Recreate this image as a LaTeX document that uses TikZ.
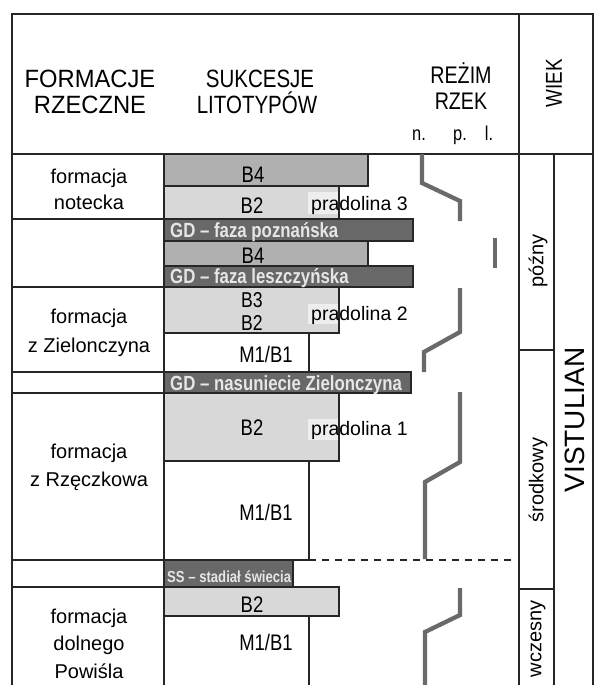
\documentclass[tikz,border=0pt]{standalone}
\usepackage{fontspec}
\setmainfont{Liberation Sans}
\newfontfamily\fW[FakeStretch=0.95]{Liberation Sans}
\newfontfamily\fN[FakeStretch=0.82]{Liberation Sans}
\definecolor{cBfour}{HTML}{B0B0B0}
\definecolor{cBtwo}{HTML}{D8D8D8}
\definecolor{cGD}{HTML}{686868}
\definecolor{cGDtext}{HTML}{E6E6E6}
\definecolor{cLine}{HTML}{262626}
\definecolor{cReg}{HTML}{6A6A6A}
\definecolor{cPatch}{HTML}{EEEEEE}
\begin{document}
\begin{tikzpicture}[x=1pt,y=-1pt,
  frameline/.style={draw=cLine, line width=1.2pt},
  lbox/.style={draw=cLine, line width=1.1pt},
  regime/.style={draw=cReg, line width=4.3pt, line join=miter},
  hdrwide/.style={anchor=base, inner sep=0pt, font=\fW\fontsize{25}{30}\selectfont},
  hdrnarrow/.style={anchor=base, inner sep=0pt, font=\fN\fontsize{25}{30}\selectfont},
  hdrsmall/.style={anchor=base, inner sep=0pt, font=\fN\fontsize{24}{28}\selectfont},
  npl/.style={anchor=base, inner sep=0pt, font=\fN\fontsize{20}{24}\selectfont},
  formtext/.style={anchor=base, inner sep=0pt, font=\fontsize{20}{24}\selectfont},
  litho/.style={anchor=base, inner sep=0pt, font=\fN\fontsize{22.5}{26}\selectfont},
  gdtext/.style={anchor=base west, inner sep=0pt, text=cGDtext, font=\fN\bfseries\fontsize{20.5}{24}\selectfont},
  sstext/.style={anchor=base west, inner sep=0pt, text=cGDtext, font=\fN\bfseries\fontsize{16}{20}\selectfont},
  pradtext/.style={anchor=base west, inner sep=0pt, font=\fontsize{19.5}{23}\selectfont},
  agetext/.style={rotate=90, anchor=center, inner sep=0pt, font=\fontsize{20}{24}\selectfont},
]
\useasboundingbox (0,0) rectangle (609,685);
\fill[white] (0,0) rectangle (609,685);
\begin{scope}
\clip (0,0) rectangle (609,685);

% lithotype boxes
\filldraw[lbox, fill=cBfour] (164,154) rectangle (368,186);
\filldraw[lbox, fill=cBtwo] (164,186) rectangle (339,219);
\filldraw[lbox, fill=cGD] (164,219) rectangle (413,241);
\filldraw[lbox, fill=cBfour] (164,241) rectangle (368,266);
\filldraw[lbox, fill=cGD] (164,266) rectangle (413,287);
\filldraw[lbox, fill=cBtwo] (164,287) rectangle (339,333);
\filldraw[lbox, fill=white] (164,333) rectangle (309,372);
\filldraw[lbox, fill=cGD] (164,372) rectangle (411,393);
\filldraw[lbox, fill=cBtwo] (164,393) rectangle (339,461);
\filldraw[lbox, fill=white] (164,461) rectangle (309,560);
\filldraw[lbox, fill=cGD] (164,560) rectangle (293,587);
\filldraw[lbox, fill=cBtwo] (164,587) rectangle (339,616);
\filldraw[lbox, fill=white] (164,616) rectangle (309,700);

% light patches behind "pradolina"
\fill[cPatch] (308,192) rectangle (338.4,214);
\fill[cPatch] (308,304) rectangle (338.4,324);
\fill[cPatch] (308,419) rectangle (338.4,440);

% frame and table lines
\draw[frameline] (12,700) -- (12,14) -- (593,14) -- (593,700);
\draw[frameline] (12,154) -- (593,154);
\draw[frameline] (519,14) -- (519,700);
\draw[frameline] (554,154) -- (554,700);
\draw[frameline] (164,154) -- (164,700);
\foreach \yy in {219,287,372,393,560,587} {\draw[frameline] (12,\yy) -- (164,\yy);}
\draw[frameline] (519,350) -- (554,350);
\draw[frameline] (519,589) -- (554,589);

% dashed boundary
\coordinate (dashA) at (309,560);
\coordinate (dashB) at (517,560);
\draw[cLine, line width=1.1pt, dash pattern=on 7pt off 6pt] (dashA) -- (dashB);

% regime curves
\draw[regime] (422,154) -- (422,183) -- (460,201) -- (460,221);
\draw[regime] (495,238) -- (495,268);
\draw[regime] (460,288) -- (460,332) -- (424,352) -- (424,372);
\draw[regime] (460,392) -- (460,462) -- (425,482) -- (425,559);
\draw[regime] (460,588) -- (460,615) -- (425,632) -- (425,700);

% header
\node[hdrwide] (hA1) at (90,87) {FORMACJE};
\node[hdrwide] (hA2) at (90,113) {RZECZNE};
\node[hdrnarrow] (hB1) at (260,87) {SUKCESJE};
\node[hdrnarrow] (hB2) at (257,113) {LITOTYPÓW};
\node[hdrsmall] (hC1) at (461,83) {REŻIM};
\node[hdrsmall] (hC2) at (461,109) {RZEK};
\node[npl] (hn) at (419,140) {n.};
\node[npl] (hp) at (460,140) {p.};
\node[npl] (hl) at (489,140) {l.};
\node[rotate=90, anchor=center, inner sep=0pt, font=\fN\fontsize{23}{26}\selectfont] (hD) at (554,83) {WIEK};

% formations
\node[formtext] (f1a) at (89,183) {formacja};
\node[formtext] (f1b) at (89,209) {notecka};
\node[formtext] (f2a) at (89,323) {formacja};
\node[formtext] (f2b) at (89,352) {z Zielonczyna};
\node[formtext] (f3a) at (89,458) {formacja};
\node[formtext] (f3b) at (89,486) {z Rzęczkowa};
\node[formtext] (f4a) at (89,623) {formacja};
\node[formtext] (f4b) at (89,650) {dolnego};
\node[formtext] (f4c) at (89,678) {Powiśla};

% lithotype labels
\node[litho] (l1) at (253,182) {B4};
\node[litho] (l2) at (252,213) {B2};
\node[litho] (l3) at (253,263) {B4};
\node[litho, font=\fN\fontsize{21.5}{24}\selectfont] (l4) at (252,307.5) {B3};
\node[litho, font=\fN\fontsize{21.5}{24}\selectfont] (l5) at (252,330) {B2};
\node[litho] (l6) at (266,362) {M1/B1};
\node[litho] (l7) at (252,435) {B2};
\node[litho] (l8) at (266,520) {M1/B1};
\node[litho] (l9) at (252,612) {B2};
\node[litho] (l10) at (266,650) {M1/B1};

\node[gdtext] (g1) at (170,237) {GD – faza poznańska};
\node[gdtext] (g2) at (170,283) {GD – faza leszczyńska};
\node[gdtext] (g3) at (170,390) {GD – nasuniecie Zielonczyna};
\node[sstext] (g4) at (167,582) {SS – stadiał świecia};

\node[pradtext] (p3) at (311,210) {pradolina 3};
\node[pradtext] (p2) at (311,320) {pradolina 2};
\node[pradtext] (p1) at (311,435) {pradolina 1};

% ages
\node[agetext] (a1) at (538,261) {późny};
\node[agetext] (a2) at (538,480) {środkowy};
\node[agetext] (a3) at (538,639) {wczesny};
\node[rotate=90, anchor=center, inner sep=0pt, font=\fontsize{28}{32}\selectfont] (a4) at (575,420) {VISTULIAN};
\end{scope}
\end{tikzpicture}
\end{document}
